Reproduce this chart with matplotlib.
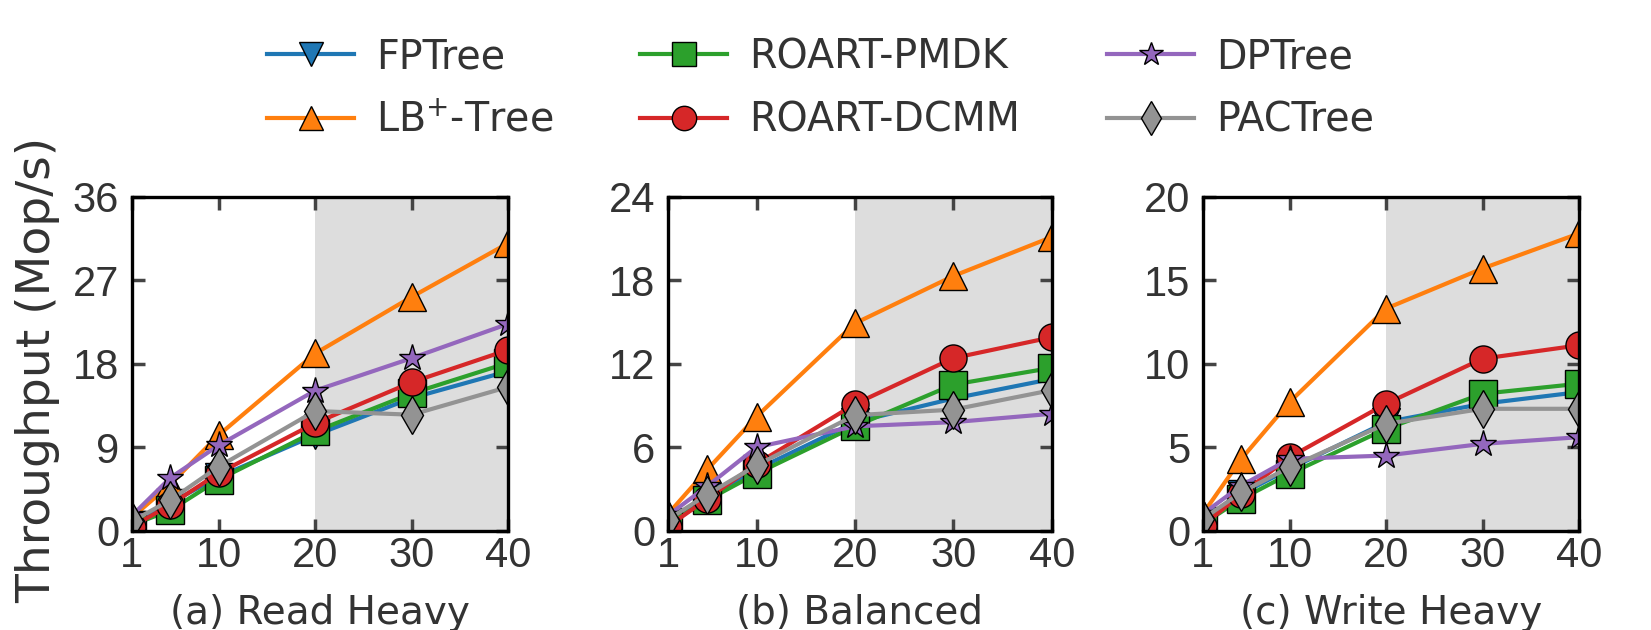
import numpy as np
import matplotlib
matplotlib.use('Agg')
from matplotlib import pyplot as plt

threads = [1, 5, 10, 20, 30, 40]
names = ['FPTree', 'LB$^{+}$-Tree', 'ROART-PMDK', 'ROART-DCMM', 'DPTree', 'PACTree']
colors = ['#1f77b4', '#ff7f0e', '#2ca02c', '#d62728', '#9467bd', '#939393']
markers = ['v', '^', 's', 'o', '*', 'd']

# (a) read heavy
read_fptree = [0.6, 3.0, 5.8, 10.3, 14.3, 17.2]
read_lbtree = [1.4, 5.0, 10.3, 19.1, 25.2, 31.0]
read_pmdk = [0.6, 2.2, 5.5, 10.7, 14.8, 18.1]
read_dcmm = [0.4, 2.8, 6.2, 11.6, 16.0, 19.5]
read_dptree = [1.6, 5.7, 9.2, 15.1, 18.6, 22.3]
read_pactree = [1.0, 3.3, 6.9, 12.9, 12.5, 15.5]

# (b) balanced
bal_fptree = [0.6, 2.4, 4.4, 7.8, 9.5, 10.9]
bal_lbtree = [1.2, 4.4, 8.2, 14.9, 18.3, 21.1]
bal_pmdk = [0.5, 2.2, 4.1, 7.5, 10.5, 11.7]
bal_dcmm = [0.3, 2.3, 4.8, 9.1, 12.4, 13.9]
bal_dptree = [1.1, 3.2, 6.0, 7.5, 7.8, 8.4]
bal_pactree = [0.8, 2.6, 4.7, 8.3, 8.7, 10.1]

# (c) write heavy
write_fptree = [0.6, 2.2, 3.7, 6.5, 7.6, 8.3]
write_lbtree = [1.0, 4.3, 7.7, 13.3, 15.7, 17.8]
write_pmdk = [0.4, 1.9, 3.4, 6.1, 8.2, 8.8]
write_dcmm = [0.3, 2.2, 4.4, 7.6, 10.3, 11.1]
write_dptree = [1.0, 2.7, 4.3, 4.5, 5.2, 5.6]
write_pactree = [0.7, 2.3, 3.8, 6.4, 7.3, 7.3]

panels = [
    ('(a) Read Heavy', [read_fptree, read_lbtree, read_pmdk, read_dcmm, read_dptree, read_pactree], 36, 9),
    ('(b) Balanced', [bal_fptree, bal_lbtree, bal_pmdk, bal_dcmm, bal_dptree, bal_pactree], 24, 6),
    ('(c) Write Heavy', [write_fptree, write_lbtree, write_pmdk, write_dcmm, write_dptree, write_pactree], 20, 5),
]

txt = '#333333'
plt.rcParams['font.family'] = 'DejaVu Sans'
plt.rcParams['mathtext.fontset'] = 'dejavusans'

fig = plt.figure(figsize=(16.51, 6.30), dpi=100)
W, H = 1651.0, 630.0
lefts = [131.7, 668.0, 1202.7]
rights = [508.3, 1051.7, 1579.0]
top, bottom = 196.7, 530.7

handles = []
for i, (title, series, ymax, ystep) in enumerate(panels):
    ax = fig.add_axes([lefts[i] / W, 1 - bottom / H, (rights[i] - lefts[i]) / W, (bottom - top) / H])
    ax.axvspan(20, 40, color='#dddddd', zorder=0, lw=0)
    for j, vals in enumerate(series):
        ln, = ax.plot(threads, vals, color=colors[j], marker=markers[j], ms=19.5,
                      mec='black', mew=1.0, lw=3, label=names[j])
        if i == 0:
            handles.append(ln)
    ax.set_xlim(1, 40)
    ax.set_ylim(0, ymax)
    ax.set_xticks([1, 10, 20, 30, 40])
    ax.set_yticks(np.arange(0, ymax + 1, ystep))
    ax.tick_params(direction='in', length=9, width=2.5, color='#444444',
                   top=True, right=True, labelcolor=txt)
    ax.tick_params(axis='x', pad=4)
    ax.tick_params(axis='y', pad=9)
    for lab in ax.get_xticklabels() + ax.get_yticklabels():
        lab.set_fontfamily('Liberation Sans')
        lab.set_fontsize(30)
    for s in ax.spines.values():
        s.set_linewidth(2.4)
        s.set_color('black')
    cx = (lefts[i] + rights[i]) / 2 / W
    fig.text(cx, 6 / H, title, ha='center', va='baseline', fontsize=28, color=txt)

fig.text(38 / W, 1 - 370 / H, 'Throughput (Mop/s)', rotation=90, ha='center', va='center',
         fontsize=34, color=txt)

fig.legend(handles=handles, loc='center', bbox_to_anchor=(0.497, 1 - 89 / H), ncol=3,
           frameon=False, fontsize=28.5, handlelength=2.2, handletextpad=0.55,
           columnspacing=2.2, labelspacing=0.6, markerscale=0.9, labelcolor=txt)

fig.savefig('out.png', dpi=100)
